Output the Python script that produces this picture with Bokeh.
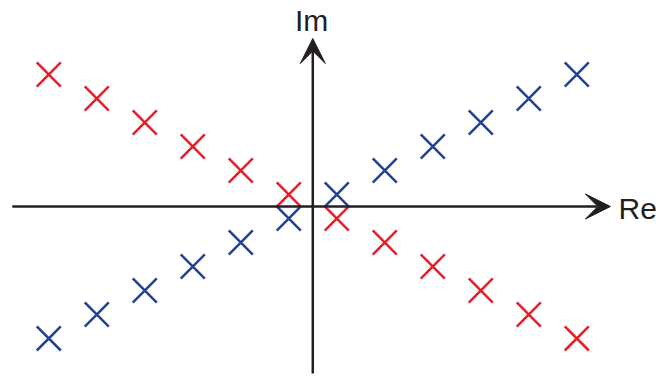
from bokeh.plotting import figure
from bokeh.models import Range1d, Arrow, VeeHead, Label
from bokeh.embed import file_html
from bokeh.resources import INLINE

# Pole locations in the complex plane (real part, imaginary part)
red_re = [-5.5, -4.5, -3.5, -2.5, -1.5, -0.5, 0.5, 1.5, 2.5, 3.5, 4.5, 5.5]
red_im = [2.75, 2.25, 1.75, 1.25, 0.75, 0.25, -0.25, -0.75, -1.25, -1.75, -2.25, -2.75]
blue_re = [-5.5, -4.5, -3.5, -2.5, -1.5, -0.5, 0.5, 1.5, 2.5, 3.5, 4.5, 5.5]
blue_im = [-2.75, -2.25, -1.75, -1.25, -0.75, -0.25, 0.25, 0.75, 1.25, 1.75, 2.25, 2.75]

RED = "#ED1C24"
BLUE = "#21409A"
INK = "#231F20"

p = figure(width=659, height=376, output_backend="svg", toolbar_location=None,
           x_range=Range1d(-6.506, 7.223), y_range=Range1d(-3.542, 4.292),
           min_border=0)
p.axis.visible = False
p.grid.visible = False
p.outline_line_color = None
p.background_fill_color = "white"
p.border_fill_color = "white"

# Coordinate axes drawn as arrows
p.add_layout(Arrow(x_start=-6.26, y_start=0, x_end=6.2, y_end=0,
                   line_color=INK, line_width=2.5,
                   end=VeeHead(size=25, fill_color=INK, line_color=INK, line_width=1)))
p.add_layout(Arrow(x_start=0, y_start=-3.48, x_end=0, y_end=3.5,
                   line_color=INK, line_width=2.5,
                   end=VeeHead(size=25, fill_color=INK, line_color=INK, line_width=1)))

p.scatter(red_re, red_im, marker="x", size=34, line_color=RED, line_width=2.5)
p.scatter(blue_re, blue_im, marker="x", size=34, line_color=BLUE, line_width=2.5)

p.add_layout(Label(x=-0.37, y=3.875, text="Im", text_font="Liberation Sans",
                   text_font_size="30px", text_color=INK, text_baseline="alphabetic"))
p.add_layout(Label(x=6.37, y=-0.04, text="Re", text_font="Liberation Sans",
                   text_font_size="30px", text_color=INK, text_baseline="alphabetic"))

open("out.html", "w").write(file_html(p, INLINE))
